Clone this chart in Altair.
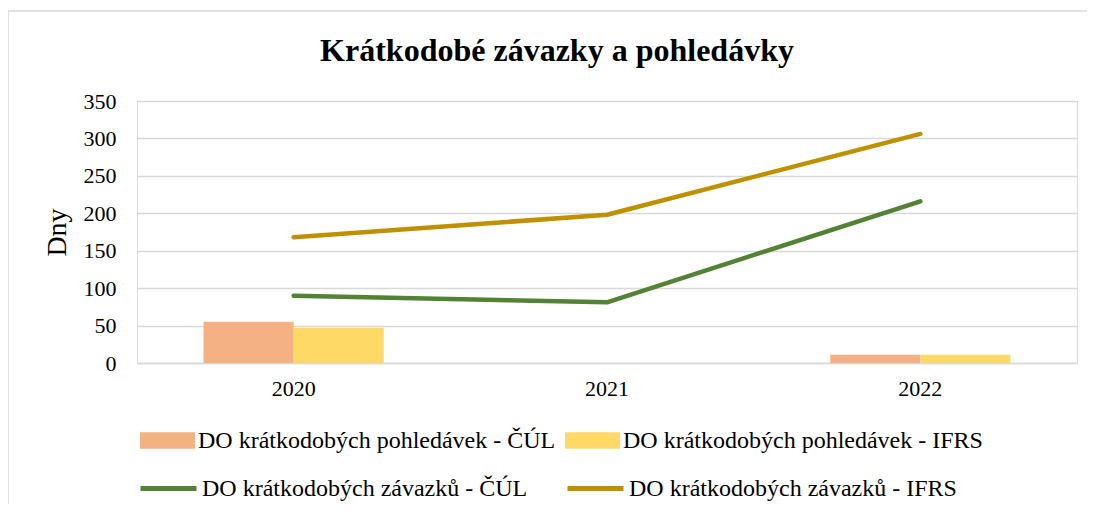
import altair as alt
import pandas as pd

years = ["2020", "2021", "2022"]
bar_series = ["DO krátkodobých pohledávek - ČÚL", "DO krátkodobých pohledávek - IFRS"]
line_series = ["DO krátkodobých závazků - ČÚL", "DO krátkodobých závazků - IFRS"]
pohl_cul = [55, None, 11]
pohl_ifrs = [47, None, 11]
zav_cul = [90, 81, 216]
zav_ifrs = [168, 198, 306]

bar_colors = ["#F4B183", "#FFD966"]
line_colors = ["#548235", "#BF9000"]

FONT = "Liberation Serif"

rows = []
for s, vals in zip(bar_series, [pohl_cul, pohl_ifrs]):
    for y, v in zip(years, vals):
        if v is not None:
            rows.append({"year": y, "series": s, "value": v})
bars_df = pd.DataFrame(rows)

rows = []
for s, vals in zip(line_series, [zav_cul, zav_ifrs]):
    for y, v in zip(years, vals):
        rows.append({"year": y, "series": s, "value": v})
lines_df = pd.DataFrame(rows)

xenc = alt.X("year:N", sort=years, title=None,
             scale=alt.Scale(paddingInner=0.425, paddingOuter=0.2125),
             axis=alt.Axis(labelAngle=0, ticks=False, domainColor="#d9d9d9", domainWidth=1.5,
                           labelPadding=15, labelFontSize=22, labelFont=FONT, labelColor="#000"))
yenc = alt.Y("value:Q", title="Dny",
             scale=alt.Scale(domain=[0, 350], nice=False),
             axis=alt.Axis(values=[0, 50, 100, 150, 200, 250, 300, 350], ticks=False, domain=False,
                           gridColor="#d9d9d9", gridWidth=1.5, labelPadding=21,
                           labelFontSize=22, labelFont=FONT, labelColor="#000",
                           titleFont=FONT, titleFontSize=28, titleFontWeight="normal",
                           titleColor="#000", titlePadding=12))

# (legendX, legendY) of each legend, relative to the plot area
legend_pos = [(3, 312), (428, 312), (1, 357), (428, 357)]


def leg(i, kind):
    common = dict(orient="none", legendX=legend_pos[i][0], legendY=legend_pos[i][1],
                  title=None, labelFont=FONT, labelFontSize=24, labelColor="#000",
                  labelOffset=3, padding=0, labelLimit=600)
    if kind == "bar":
        return alt.Legend(symbolType="M-1,-0.3H1V0.3H-1Z", symbolSize=3025,
                          symbolStrokeWidth=0, **common)
    return alt.Legend(symbolType="stroke", symbolSize=3136, symbolStrokeWidth=5, **common)


layers = []
frame = alt.Chart(alt.Data(values=[{"a": 1}])).mark_rect(
    filled=False, stroke="#d9d9d9", strokeWidth=1.5
).encode(x=alt.value(-129), x2=alt.value(960), y=alt.value(-90), y2=alt.value(420))
layers.append(frame)

for i, s in enumerate(bar_series):
    layers.append(
        alt.Chart(bars_df).transform_filter(alt.datum.series == s).mark_bar().encode(
            x=xenc, y=yenc,
            xOffset=alt.XOffset("series:N", scale=alt.Scale(domain=bar_series, paddingInner=0, paddingOuter=0)),
            fill=alt.Fill("series:N", scale=alt.Scale(domain=[s], range=[bar_colors[i]]), legend=leg(i, "bar")),
        )
    )

for i, s in enumerate(line_series):
    layers.append(
        alt.Chart(lines_df).transform_filter(alt.datum.series == s).mark_line(
            strokeWidth=4.5, strokeCap="round", strokeJoin="round"
        ).encode(
            x=xenc, y=yenc,
            stroke=alt.Stroke("series:N", scale=alt.Scale(domain=[s], range=[line_colors[i]]), legend=leg(i + 2, "line")),
        )
    )

chart = alt.layer(*layers).resolve_scale(
    fill="independent", stroke="independent"
).resolve_legend(
    fill="independent", stroke="independent"
).properties(
    width=940, height=262,
    title=alt.TitleParams("Krátkodobé závazky a pohledávky", font=FONT, fontSize=32,
                          fontWeight="bold", color="#000", anchor="middle", dx=-50, offset=-58),
    autosize=alt.AutoSizeParams(type="none"),
    padding={"left": 129, "top": 93, "right": 10, "bottom": 141},
).configure_view(stroke=None).configure(background="white")

chart.save("out.html", embed_options={"renderer": "svg", "actions": False})
